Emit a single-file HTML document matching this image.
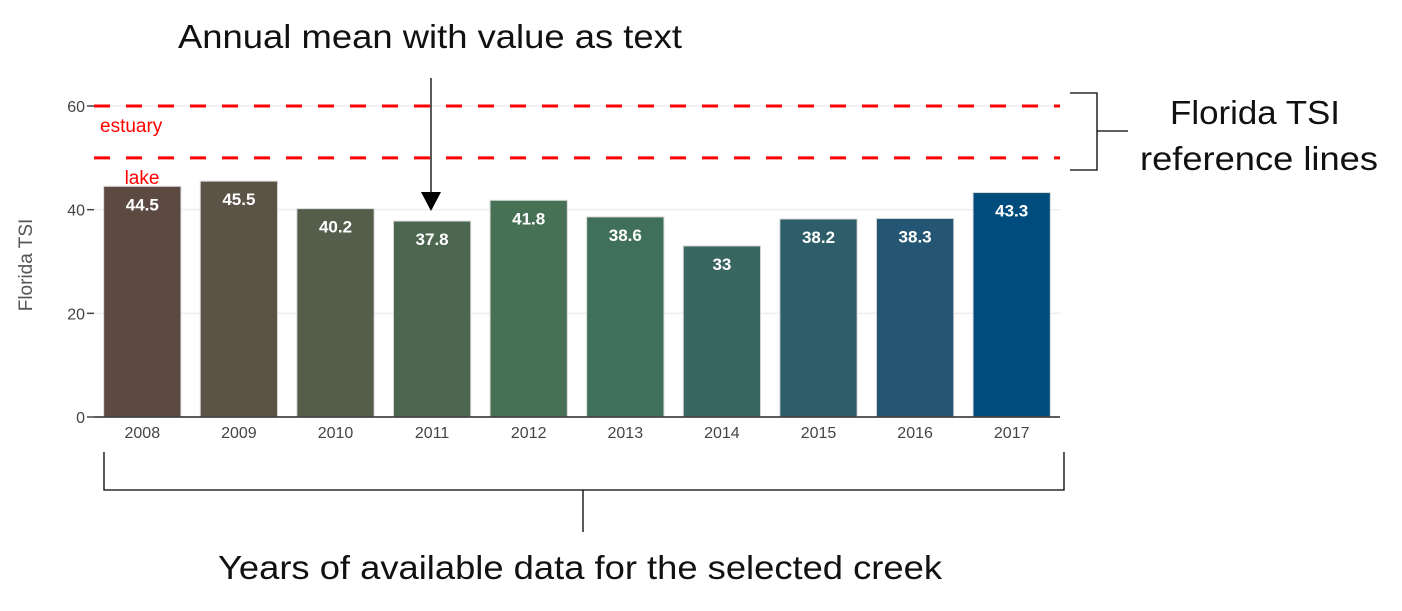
<!DOCTYPE html>
<html><head><meta charset="utf-8"><style>
html,body{margin:0;padding:0;background:#fff;width:1402px;height:611px;overflow:hidden}
svg{display:block}
</style></head><body>
<svg id="chart" width="1402" height="611" xmlns="http://www.w3.org/2000/svg" font-family="Liberation Sans, sans-serif">
<g id="grid"></g>
<g id="bars"></g>
<g id="refs"></g>
<g id="axes"></g>
<text transform="translate(32,265) rotate(-90)" text-anchor="middle" font-size="19" fill="#555">Florida TSI</text>
<g>
<text x="430" y="48" text-anchor="middle" font-size="33" fill="#111" textLength="504" lengthAdjust="spacingAndGlyphs">Annual mean with value as text</text>
<line x1="431" y1="78" x2="431" y2="195" stroke="#000" stroke-width="1.3"/>
<polygon points="421,192 441,192 431,211" fill="#000"/>
<path d="M1070,93 H1097 V170 H1070 M1097,131 H1128" stroke="#000" stroke-width="1.3" fill="none"/>
<text x="1255" y="124" text-anchor="middle" font-size="33" fill="#111" textLength="170" lengthAdjust="spacingAndGlyphs">Florida TSI</text>
<text x="1259" y="170" text-anchor="middle" font-size="33" fill="#111" textLength="238" lengthAdjust="spacingAndGlyphs">reference lines</text>
<path d="M104,452 V490 H1064 V452 M583,490 V532" stroke="#000" stroke-width="1.3" fill="none"/>
<text x="580" y="579" text-anchor="middle" font-size="33" fill="#111" textLength="724" lengthAdjust="spacingAndGlyphs">Years of available data for the selected creek</text>
</g>
</svg>
<script>
const years = ['2008','2009','2010','2011','2012','2013','2014','2015','2016','2017'];
const tsiValues = [44.5,45.5,40.2,37.8,41.8,38.6,33,38.2,38.3,43.3];
const valueLabels = ['44.5','45.5','40.2','37.8','41.8','38.6','33','38.2','38.3','43.3'];
const barColors = ['#5c4a42','#5b5446','#545e4a','#4c6650','#477155','#40705c','#3a6661','#2f5e6b','#245673','#004c7d'];
const yTicks = [0,20,40,60];
const refNames = ['estuary','lake'];
const refValues = [60,50];

const NS='http://www.w3.org/2000/svg';
const X0=94, X1=1060, Y0=417, YPER=(417-106)/60;
const band=(X1-X0)/years.length;
const xScale=i=>X0+band*(i+0.5);
const yScale=v=>Y0-v*YPER;
function mk(tag,attrs,parent){const e=document.createElementNS(NS,tag);for(const k in attrs)e.setAttribute(k,attrs[k]);parent.appendChild(e);return e;}
const grid=document.getElementById('grid'),bars=document.getElementById('bars'),refs=document.getElementById('refs'),axes=document.getElementById('axes');

yTicks.forEach(t=>{
  const y=yScale(t);
  if(t>0){const g=mk('line',{x1:X0,x2:X1,y1:y,y2:y,stroke:'#eee','stroke-width':1.5},grid);
  
  }
  const tk=mk('line',{x1:X0-7,x2:X0,y1:y,y2:y,stroke:'#444','stroke-width':1.5},axes);
  
  
  const lb=mk('text',{x:X0-9,y:y+6,'text-anchor':'end','font-size':16,fill:'#444'},axes);
  
  
  lb.textContent=t;
});

const bw=band*0.8;
years.forEach((yr,i)=>{
  const cx=xScale(i),top=yScale(tsiValues[i]);
  const r=mk('rect',{x:cx-bw/2,y:top,width:bw,height:Y0-top,fill:barColors[i],stroke:'#d8d8d8','stroke-width':1},bars);
  
  
  const vt=mk('text',{x:cx,y:top+24,'text-anchor':'middle','font-size':17,'font-weight':'bold',fill:'#fff'},bars);
  
  
  vt.textContent=valueLabels[i];
  const xl=mk('text',{x:cx,y:438,'text-anchor':'middle','font-size':16,fill:'#444'},axes);
  
  
  xl.textContent=yr;
});

const ax=mk('line',{x1:X0,x2:X1,y1:Y0,y2:Y0,stroke:'#444','stroke-width':1.8},axes);



refValues.forEach((v,i)=>{
  const y=yScale(v);
  const l=mk('line',{x1:X0,x2:X1,y1:y,y2:y,stroke:'#ff0000','stroke-width':3,'stroke-dasharray':'16,16'},refs);
  
  
});
const e=mk('text',{x:100,y:yScale(refValues[0])+26,'font-size':19,fill:'#ff0000'},refs);


e.textContent=refNames[0];
const lk=mk('text',{x:142,y:yScale(refValues[1])+26,'text-anchor':'middle','font-size':19,fill:'#ff0000'},refs);


lk.textContent=refNames[1];
</script>
</body></html>
